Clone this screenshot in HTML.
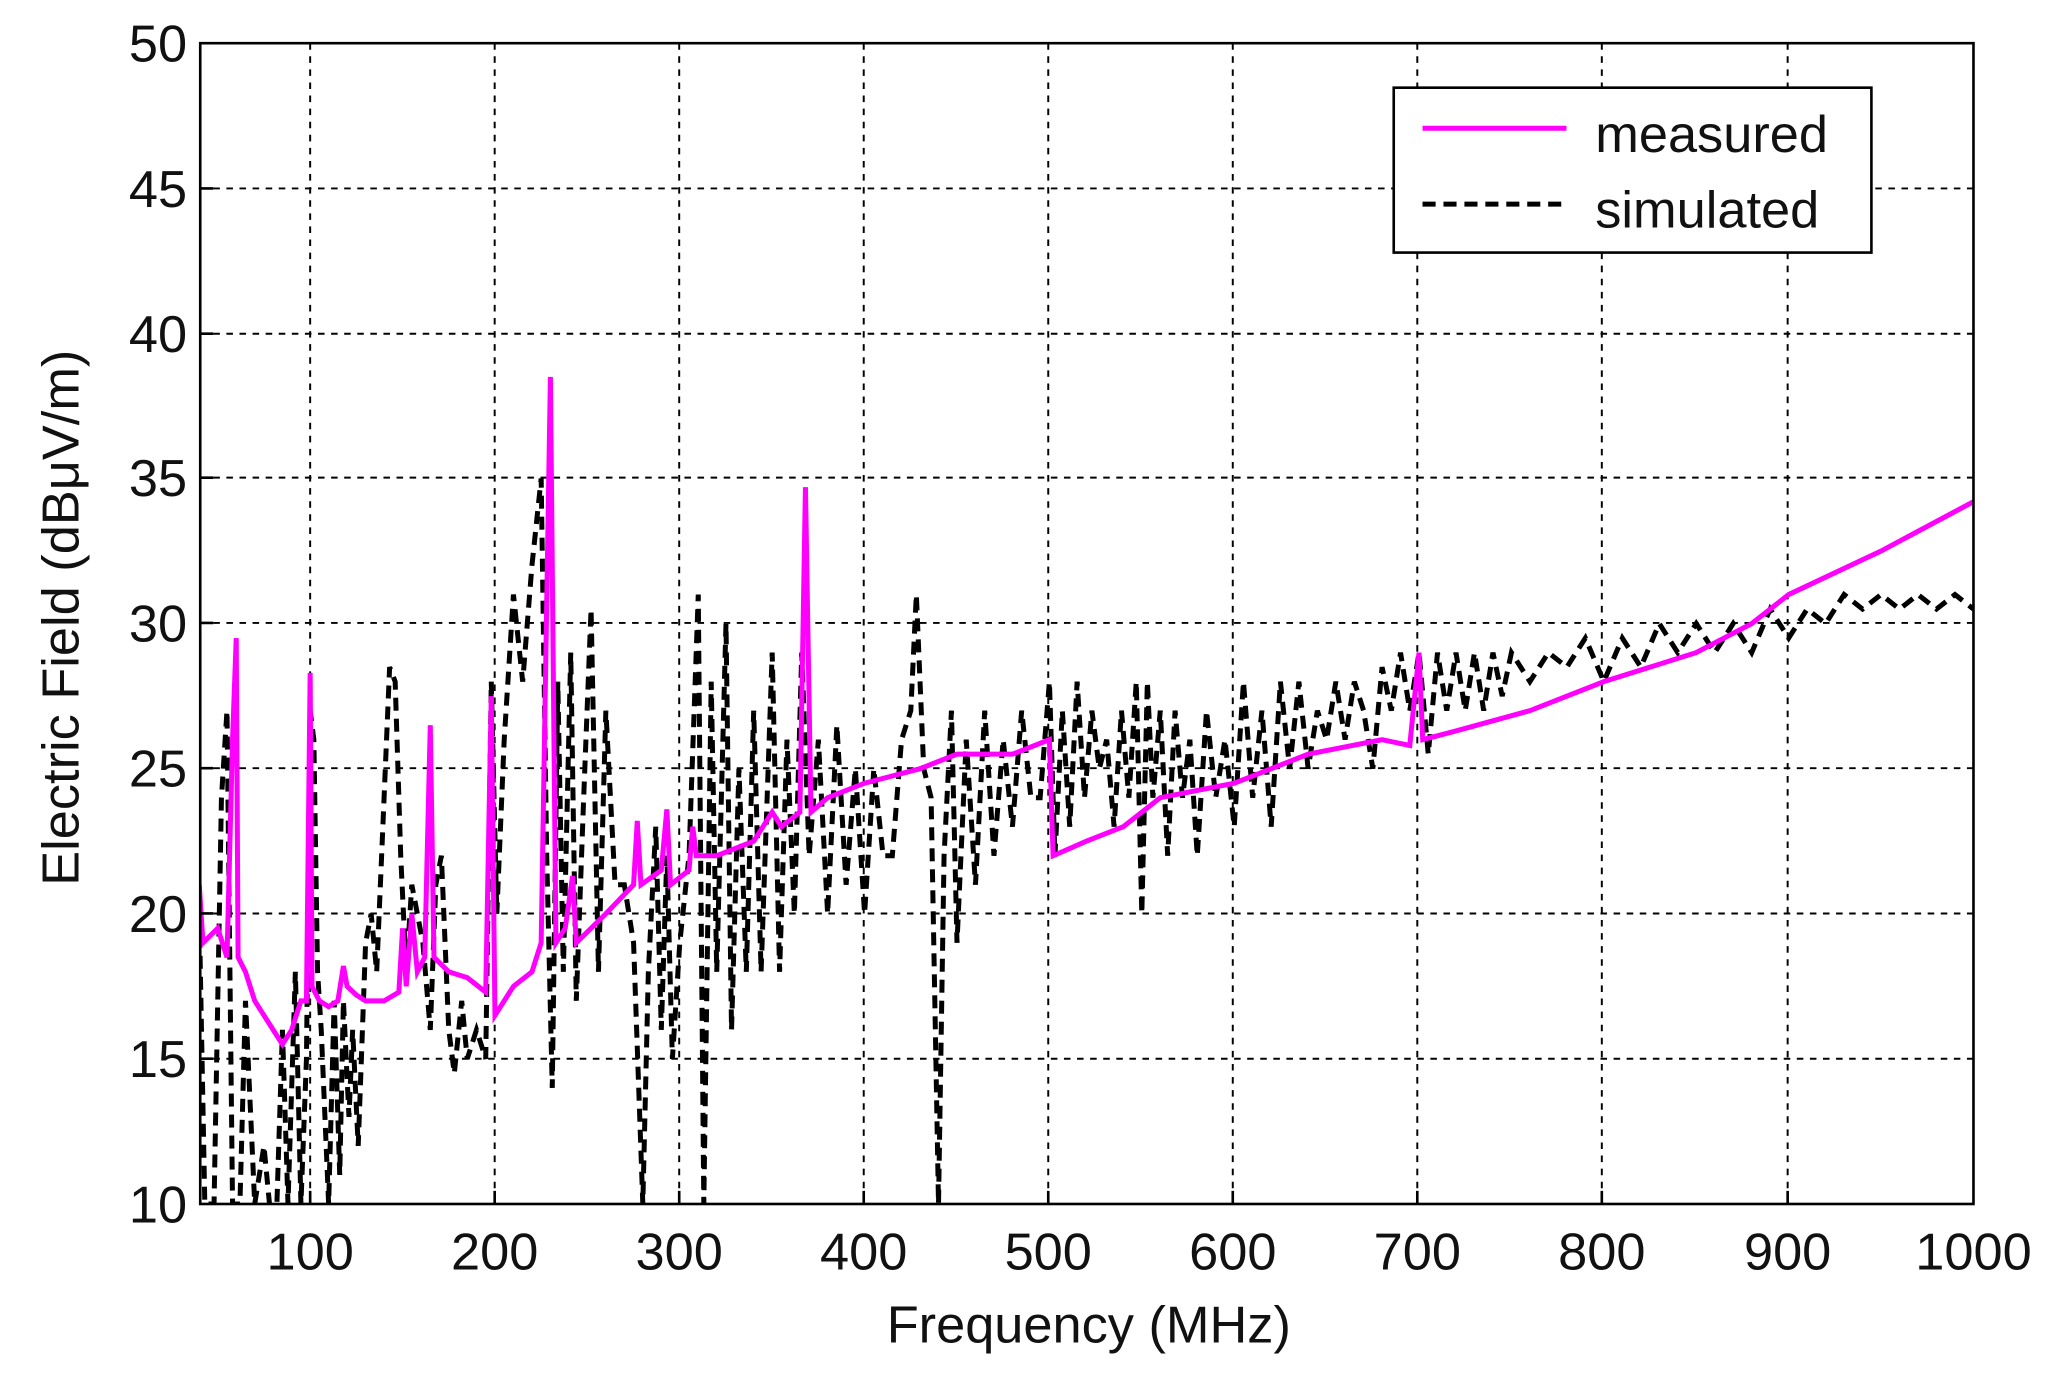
<!DOCTYPE html>
<html><head><meta charset="utf-8"><style>html,body{margin:0;padding:0;background:#fff}svg{display:block}</style></head>
<body>
<svg width="2052" height="1380" viewBox="0 0 1568 1054.5" preserveAspectRatio="none" xmlns="http://www.w3.org/2000/svg" font-family="Liberation Sans, Arial, sans-serif">
<defs><clipPath id="c"><rect x="153" y="33" width="1355" height="887"/></clipPath></defs>
<rect width="1568" height="1054.5" fill="#fff"/>
<g stroke="#000" stroke-width="1.5" stroke-dasharray="5,5" fill="none">
<path d="M237,33V920M378,33V920M519,33V920M660,33V920M801,33V920M942,33V920M1083,33V920M1224,33V920M1366,33V920"/>
<path d="M153,144H1508M153,255H1508M153,365H1508M153,476H1508M153,587H1508M153,698H1508M153,809H1508"/>
</g>
<g clip-path="url(#c)">
<g transform="translate(95.78,1141.75) scale(1.4122,-22.175)" fill="none">
<polyline vector-effect="non-scaling-stroke" stroke="#000" stroke-width="5" stroke-dasharray="13,8" points="40,20 43,10 48,10 52,24 55,27 58,10 62,10 65,17 70,10 75,12 78,10 82,10 85,16 88,10 92,18 95,10 98,15 100,27 102,26 104,18 106,16 110,10 113,17 116,11 118,17 121,13 123,16 126,12 130,19 133,20 136,18 140,24 143,28.5 146,28 149,22 152,18 155,21 158,20 161,19 165,16 168,21 171,22 175,16 178,14.5 182,17 185,15 190,16 195,15 198,28 201,20 205,26 210,31 215,28 220,32 225,35 228,22 231,14 234,28 237,18 241,29 244,17 248,24 252,30.5 256,18 260,27 265,21 270,21 275,19 280,10 283,18 287,23 290,16 293,22 296,15 300,19 305,22 310,31 313,10 317,28 320,18 325,30 328,16 332,25 336,18 340,27 344,18 350,29 354,18 358,26 362,20 366,29 370,22 375,26 380,20 385,26.5 390,21 395,25 400,20 405,25 410,22 415,22 420,26 425,27 428,31 432,25 436,24 440,10 443,22 447,27 450,19 455,26 460,21 465,27 470,22 475,26 480,23 485,27 490,24 495,24 500,28 503,22 507,27 511,23 515,28 519,24 523,27 527,25 531,26 535,23 539,27 543,24 547,28 550,20 553,28 556,24 560,27 564,22 568,27 572,24 576,26 580,22 585,27 590,24 595,26 600,23 605,28 610,24 615,27 620,23 625,28 630,25 635,28 640,25 645,27 650,26 655,28 660,26 665,28 670,27 675,25 680,28.5 685,27 690,29 695,27 700,29 705,25.5 710,29 715,27 720,29 725,27 730,29 735,27 740,29 745,27.5 750,29 760,28 770,29 780,28.5 790,29.5 800,28 810,29.5 820,28.5 830,30 840,29 850,30 860,29 870,30 880,29 890,30.5 900,29.5 910,30.5 920,30 930,31 940,30.5 950,31 960,30.5 970,31 980,30.5 990,31 1000,30.5"/>
<polyline vector-effect="non-scaling-stroke" stroke="#ff00ff" stroke-width="5" points="40,21 42,19 50,19.5 55,18.5 58,26 60,29.5 61,18.5 65,18 70,17 80,16 85,15.5 90,16 95,17 98,17 100,28.3 101,17.5 105,17 110,16.8 115,17 118,18.2 120,17.5 125,17.2 130,17 140,17 148,17.3 150,19.5 152,17.5 155,20 158,18 162,18.5 165,26.5 167,18.5 175,18 185,17.8 195,17.3 198,27.5 200,16.5 210,17.5 220,18 225,19 230,38.5 233,19 238,19.5 242,21.3 244,19 260,20 275,21 277,23.2 279,21 290,21.5 293,23.6 295,21 305,21.5 307,23 309,22 320,22 340,22.5 350,23.5 355,23 365,23.5 368,34.7 371,23.5 380,24 400,24.5 430,25 450,25.5 480,25.5 500,26 502,22 520,22.5 540,23 560,24 600,24.5 640,25.5 680,26 695,25.8 700,29 702,26 720,26.3 760,27 800,28 850,29 880,30 900,31 950,32.5 1000,34.2"/>
</g>
</g>
<rect x="153" y="33" width="1355" height="887" fill="none" stroke="#000" stroke-width="2"/>
<g stroke="#000" stroke-width="2"><path d="M237,920v-10M378,920v-10M519,920v-10M660,920v-10M801,920v-10M942,920v-10M1083,920v-10M1224,920v-10M1366,920v-10M153,144h10M153,255h10M153,365h10M153,476h10M153,587h10M153,698h10M153,809h10"/></g>
<g font-size="40" fill="#111" text-anchor="end">
<text x="143" y="47">50</text><text x="143" y="158">45</text><text x="143" y="269">40</text><text x="143" y="379">35</text><text x="143" y="490">30</text><text x="143" y="601">25</text><text x="143" y="712">20</text><text x="143" y="823">15</text><text x="143" y="934">10</text>
</g>
<g font-size="40" fill="#111" text-anchor="middle">
<text x="237" y="970">100</text><text x="378" y="970">200</text><text x="519" y="970">300</text><text x="660" y="970">400</text><text x="801" y="970">500</text><text x="942" y="970">600</text><text x="1083" y="970">700</text><text x="1224" y="970">800</text><text x="1366" y="970">900</text><text x="1508" y="970">1000</text>
<text x="832" y="1026">Frequency (MHz)</text>
<text transform="translate(60,472) rotate(-90)">Electric Field (dBμV/m)</text>
</g>
<rect x="1065" y="67" width="365" height="126" fill="#fff" stroke="#000" stroke-width="2"/>
<line x1="1087" y1="98" x2="1197" y2="98" stroke="#ff00ff" stroke-width="3.8"/>
<line x1="1087" y1="156" x2="1197" y2="156" stroke="#000" stroke-width="3.8" stroke-dasharray="10,6"/>
<g font-size="40" fill="#111"><text x="1219" y="116">measured</text><text x="1219" y="174">simulated</text></g>
</svg>
</body></html>
